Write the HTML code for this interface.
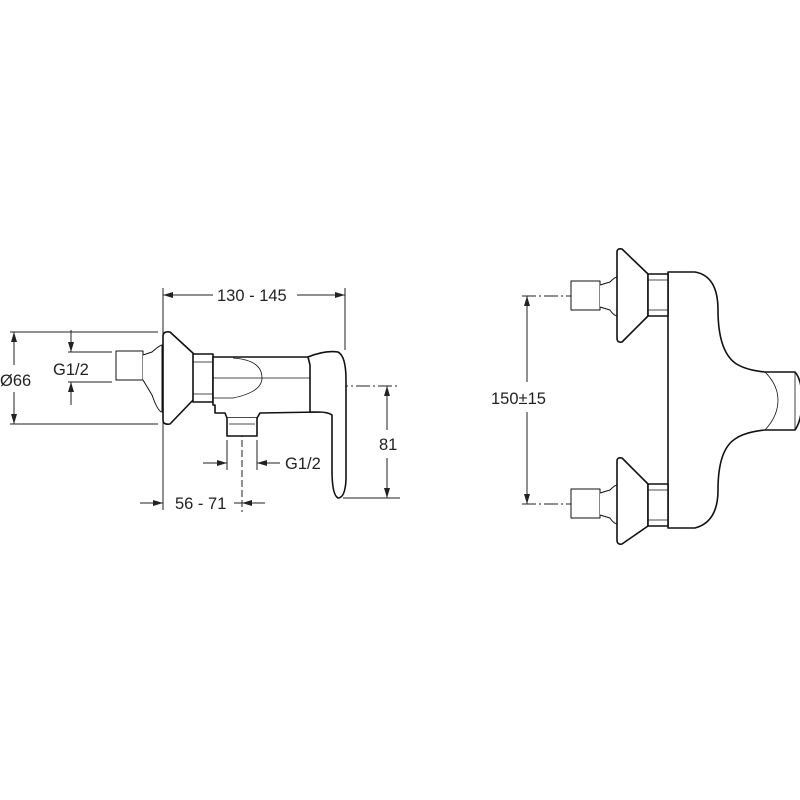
<!DOCTYPE html>
<html><head><meta charset="utf-8"><style>
html,body{margin:0;padding:0;background:#fff}
svg{display:block}
text{font-family:"Liberation Sans",Arial,sans-serif;font-size:16.5px;fill:#222}
</style></head><body>
<svg width="800" height="800" viewBox="0 0 800 800" xmlns="http://www.w3.org/2000/svg">
<defs>
<marker id="a" viewBox="0 0 10 6" refX="10" refY="3" markerWidth="10" markerHeight="6" orient="auto-start-reverse" markerUnits="userSpaceOnUse">
<path d="M0,0 L10,3 L0,6 z" fill="#222"/></marker>
</defs>
<g fill="none" stroke="#222" stroke-width="1">
<line x1="163" y1="288" x2="163" y2="510"/>
<line x1="345" y1="288" x2="345" y2="350"/>
<line x1="163" y1="295" x2="213" y2="295" marker-start="url(#a)"/>
<line x1="297" y1="295" x2="345" y2="295" marker-end="url(#a)"/>
<line x1="10" y1="332" x2="158" y2="332"/>
<line x1="10" y1="424" x2="158" y2="424"/>
<line x1="14" y1="332" x2="14" y2="365" marker-start="url(#a)"/>
<line x1="14" y1="392" x2="14" y2="424" marker-end="url(#a)"/>
<line x1="68" y1="352" x2="112" y2="352"/>
<line x1="68" y1="382" x2="112" y2="382"/>
<line x1="71" y1="330" x2="71" y2="352" marker-end="url(#a)"/>
<line x1="71" y1="405" x2="71" y2="382" marker-end="url(#a)"/>
<line x1="290" y1="386" x2="400" y2="386" stroke-dasharray="14,3,2,3"/>
<line x1="343" y1="498" x2="400" y2="498"/>
<line x1="387" y1="386" x2="387" y2="430" marker-start="url(#a)"/>
<line x1="387" y1="458" x2="387" y2="498" marker-end="url(#a)"/>
<line x1="227" y1="440" x2="227" y2="470"/>
<line x1="257" y1="440" x2="257" y2="470"/>
<line x1="203" y1="463" x2="227" y2="463" marker-end="url(#a)"/>
<line x1="280" y1="463" x2="257" y2="463" marker-end="url(#a)"/>
<line x1="242" y1="390" x2="242" y2="512" stroke-dasharray="7,3"/>
<line x1="140" y1="503" x2="163" y2="503" marker-end="url(#a)"/>
<line x1="234" y1="503" x2="242" y2="503"/>
<line x1="265" y1="503" x2="242" y2="503" marker-end="url(#a)"/>
</g>
<g fill="#fff" stroke="#111" stroke-width="1.6" stroke-linejoin="round">
<rect x="116" y="351" width="27" height="29" stroke-width="1"/>
<path d="M143,355 L152,352 Q160,345 162,345 L162,412 Q158,412 152,395 L143,380" stroke-width="1"/>
<path d="M163,336 Q163,331 170,332 L195,355 L195,398 L170,424 Q163,425 163,420 Z"/>
<rect x="193" y="354" width="20" height="48"/>
<path d="M213,357 L308,357 L320,362 L320,412 L260,413 L257,418 L227,418 L225,413 L215,413 L215,405 L213,405 Z"/>
<path d="M227,418 L227,436 L257,436 L257,418" />
<path d="M308,357 Q325,350 338,352 Q346,356 346,380 L346,480 Q345,498 338,498 Q332,495 332,470 L332,415 Q328,412 318,412 L310,412 L310,365 Z"/>
</g>
<g fill="none" stroke="#111" stroke-width="0.8">
<line x1="213" y1="378" x2="310" y2="378"/>
<path d="M233,358 Q262,360 262,378 Q262,392 233,398 L213,398"/>
<line x1="193" y1="362" x2="213" y2="362"/><line x1="193" y1="394" x2="213" y2="394"/>
<line x1="229" y1="424" x2="255" y2="424"/>
</g>
<g fill="none" stroke="#222" stroke-width="1">
<line x1="522" y1="296" x2="682" y2="296" stroke-dasharray="14,3,2,3"/>
<line x1="522" y1="504" x2="682" y2="504" stroke-dasharray="14,3,2,3"/>
<line x1="527" y1="296" x2="527" y2="382" marker-start="url(#a)"/>
<line x1="527" y1="412" x2="527" y2="504" marker-end="url(#a)"/>
</g>
<g fill="#fff" stroke="#111" stroke-width="1.6" stroke-linejoin="round">
<path d="M668,272 L695,272 Q718,276 718,310 Q718,350 735,363 Q745,370 765,372 L795,372 Q802,380 802,400 Q802,420 795,430 L765,430 Q745,432 735,439 Q718,450 718,490 Q718,522 695,528 L668,528 Z"/>
<g stroke-width="1">
<rect x="571" y="281" width="29" height="29"/>
<path d="M600,285 L610,282 Q615,277 617,277 L617,316 Q613,315 610,310 L600,307"/>
<rect x="571" y="489" width="29" height="29"/>
<path d="M600,493 L610,490 Q615,485 617,485 L617,524 Q613,523 610,518 L600,515"/>
</g>
<path d="M617,252 Q617,248 622,249 L648,274 L648,316 L622,342 Q617,343 617,338 Z"/>
<rect x="648" y="274" width="20" height="42"/>
<path d="M617,461 Q617,457 622,458 L648,484 L648,526 L622,544 Q617,545 617,540 Z"/>
<rect x="648" y="484" width="20" height="42"/>
</g>
<g fill="none" stroke="#111" stroke-width="0.8">
<line x1="648" y1="280" x2="668" y2="280"/><line x1="648" y1="310" x2="668" y2="310"/>
<line x1="648" y1="490" x2="668" y2="490"/><line x1="648" y1="520" x2="668" y2="520"/>
<path d="M765,372 Q778,385 778,400 Q778,416 765,430"/>
<line x1="795" y1="372" x2="795" y2="430"/>
</g>
<text x="0" y="386">Ø66</text>
<text x="53" y="375">G1/2</text>
<text x="217" y="301">130 - 145</text>
<text x="285" y="469">G1/2</text>
<text x="175" y="509">56 - 71</text>
<text x="379" y="450">81</text>
<text x="491" y="404">150±15</text>
</svg>
</body></html>
